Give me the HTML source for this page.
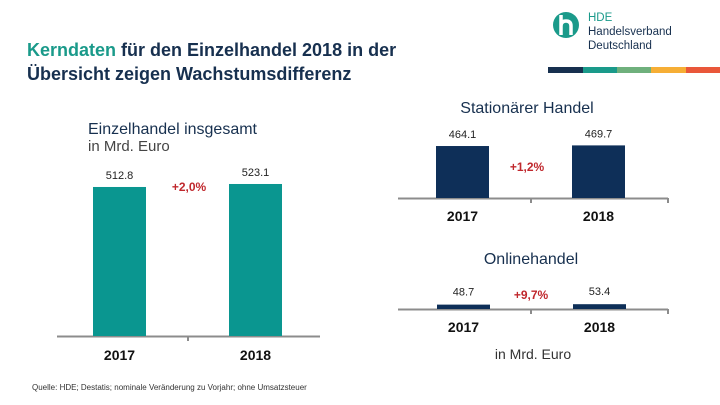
<!DOCTYPE html>
<html><head><meta charset="utf-8"><style>
body{margin:0;background:#fff;}
svg{display:block;font-family:"Liberation Sans",Arial,sans-serif;}
</style></head><body>
<svg width="720" height="405" viewBox="0 0 720 405">
<g font-size="18" font-weight="bold" fill="#17304f">
<text x="27" y="56"><tspan fill="#1a9a8a">Kerndaten</tspan> für den Einzelhandel 2018 in der</text>
<text x="27" y="80">Übersicht zeigen Wachstumsdifferenz</text>
</g>
<g>
<circle cx="566" cy="25" r="13" fill="#1a9a8a"/>
<path d="M561 15 v20 M561 26 q0-5 5-5 q5 0 5 5 v9" stroke="#fff" stroke-width="3.5" fill="none"/>
<text x="588" y="21" font-size="11.5" fill="#1a9a8a">HDE</text>
<text x="588" y="35" font-size="11.5" fill="#17304f">Handelsverband</text>
<text x="588" y="49" font-size="11.5" fill="#17304f">Deutschland</text>
<rect x="548" y="67" width="35" height="6" fill="#17304f"/>
<rect x="583" y="67" width="34" height="6" fill="#1a9a8a"/>
<rect x="617" y="67" width="34" height="6" fill="#6fb07c"/>
<rect x="651" y="67" width="35" height="6" fill="#f6ae35"/>
<rect x="686" y="67" width="34" height="6" fill="#e9573a"/>
</g>
<text x="88" y="134" font-size="16" fill="#17304f">Einzelhandel insgesamt</text>
<text x="88" y="151" font-size="15" fill="#444">in Mrd. Euro</text>
<text x="527" y="113" font-size="16" fill="#17304f" text-anchor="middle">Stationärer Handel</text>
<text x="531" y="264" font-size="16" fill="#17304f" text-anchor="middle">Onlinehandel</text>
<text x="533" y="359" font-size="14" fill="#333" text-anchor="middle">in Mrd. Euro</text>
<text x="32" y="390" font-size="8" fill="#333">Quelle: HDE; Destatis; nominale Veränderung zu Vorjahr; ohne Umsatzsteuer</text>
<g id="charts"></g>
</svg>
<script>
const categories = ["2017","2018"];
const totalValues = [512.8, 523.1];
const stationaryValues = [464.1, 469.7];
const onlineValues = [48.7, 53.4];
const totalGrowth = "+2,0%";
const stationaryGrowth = "+1,2%";
const onlineGrowth = "+9,7%";

const NS="http://www.w3.org/2000/svg";
const root=document.getElementById('charts');
function mk(tag,attrs,parent){const e=document.createElementNS(NS,tag);for(const k in attrs)e.setAttribute(k,attrs[k]);(parent||root).appendChild(e);return e;}

function drawChart(cfg){
  const g=mk('g',{});
  
  
  const y=v=>cfg.baseY - v*cfg.scale;
  const x=i=>cfg.x0 + i*cfg.step;
  const ax=mk('path',{d:`M${cfg.axL} ${cfg.baseY+0.5} H${cfg.axR} M${cfg.axM} ${cfg.baseY} v5`+(cfg.endTick?` M${cfg.axR} ${cfg.baseY} v5`:''),stroke:'#8c8c8c','stroke-width':2,fill:'none'},g);
  
  
  cfg.values.forEach((v,i)=>{
    const b=mk('rect',{x:x(i),y:y(v),width:cfg.bw,height:cfg.baseY-y(v),fill:cfg.color},g);
    
    
    const t=mk('text',{x:x(i)+cfg.bw/2,y:y(v)-cfg.labelGap,'font-size':11,fill:'#222','text-anchor':'middle'},g);
    t.textContent=v.toFixed(1);
    
    
    const c=mk('text',{x:x(i)+cfg.bw/2,y:cfg.baseY+cfg.yearGap,'font-size':14,'font-weight':'bold',fill:'#111','text-anchor':'middle'},g);
    c.textContent=categories[i];
    
    
  });
  const p=mk('text',{x:cfg.pX,y:cfg.pY,'font-size':12,'font-weight':'bold',fill:'#c0282d','text-anchor':'middle'},g);
  p.textContent=cfg.growth;
  
  
}
drawChart({name:'total-chart',values:totalValues,baseY:336,scale:0.2906,x0:93,step:136,bw:53,color:'#0a9690',labelGap:8,yearGap:24,axL:57,axR:320,axM:188,endTick:false,growth:totalGrowth,pX:189,pY:191});
drawChart({name:'stationary-chart',values:stationaryValues,baseY:198,scale:0.112,x0:436,step:136,bw:53,color:'#0e2f58',labelGap:8,yearGap:23,axL:398,axR:668,axM:531,endTick:true,growth:stationaryGrowth,pX:527,pY:171});
drawChart({name:'online-chart',values:onlineValues,baseY:309,scale:0.09,x0:437,step:136,bw:53,color:'#0e2f58',labelGap:9,yearGap:23,axL:398,axR:668,axM:531,endTick:true,growth:onlineGrowth,pX:531,pY:299});
</script>
</body></html>
